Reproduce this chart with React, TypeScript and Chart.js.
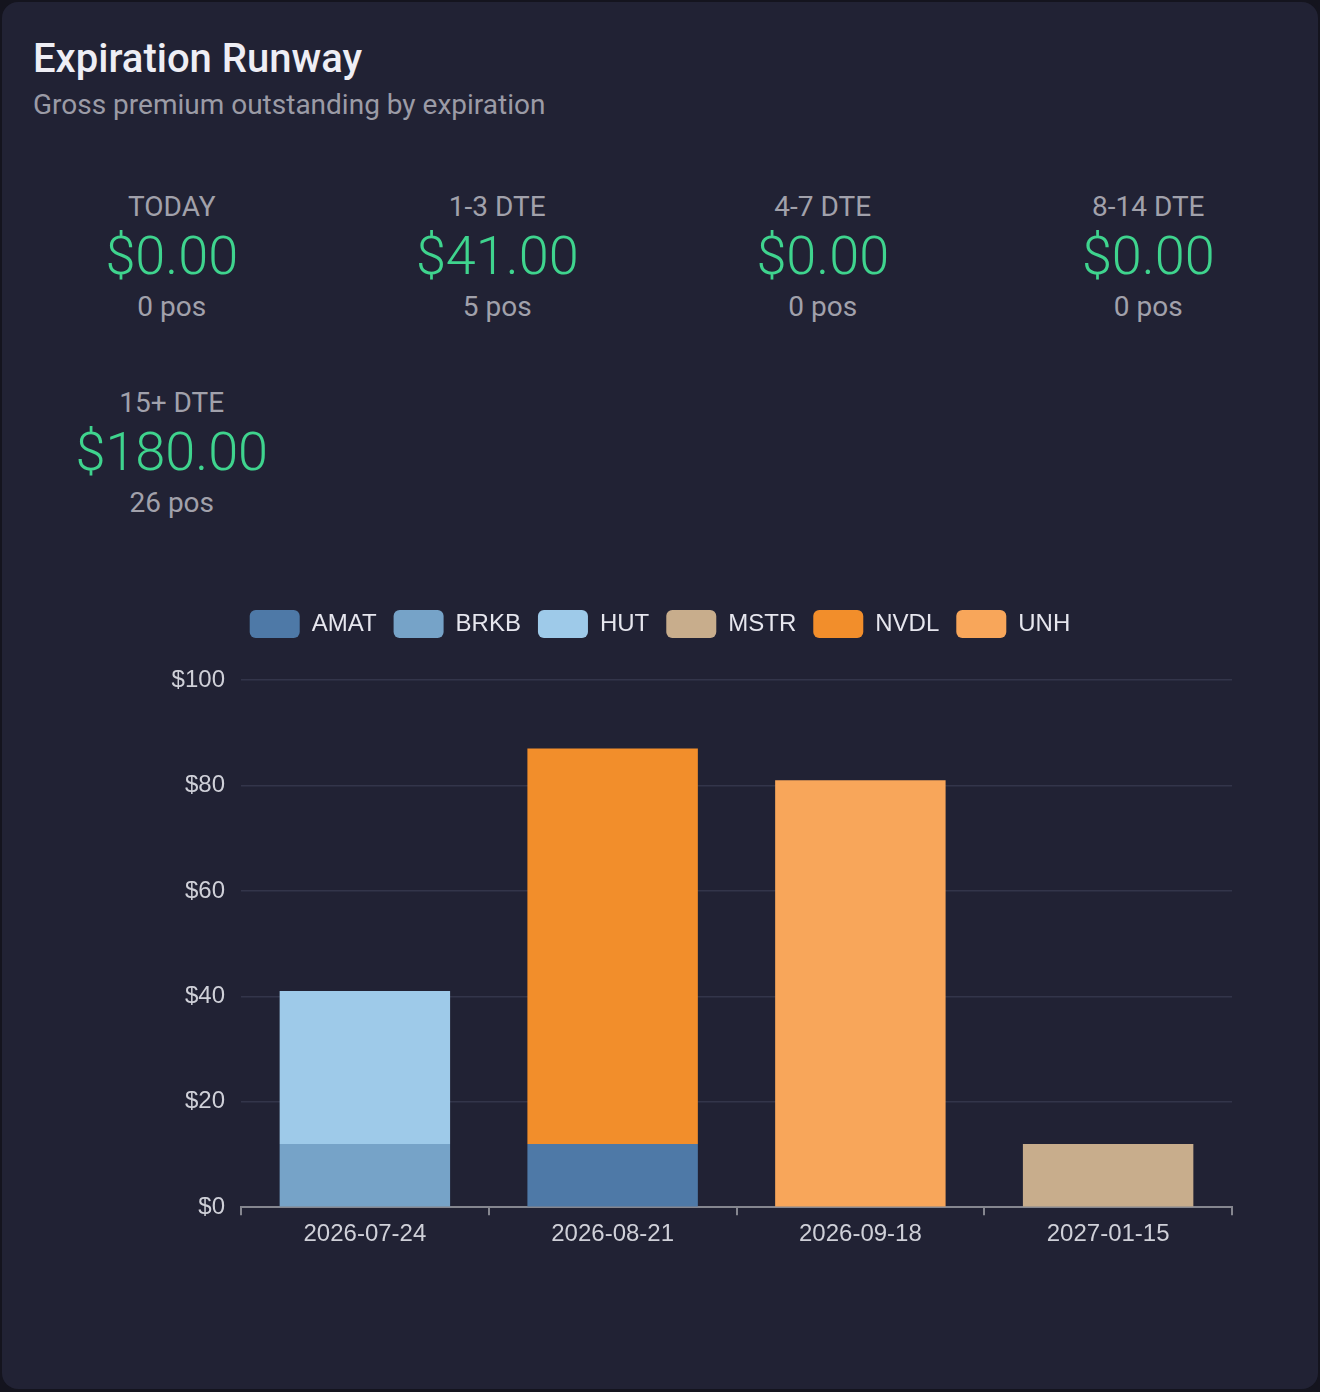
import { useEffect, useRef } from 'react';
import Chart from 'chart.js/auto';

const buckets = ['TODAY', '1-3 DTE', '4-7 DTE', '8-14 DTE', '15+ DTE'];
const bucketPremium = [0, 41, 0, 0, 180];
const bucketPositions = [0, 5, 0, 0, 26];

const expirations = ['2026-07-24', '2026-08-21', '2026-09-18', '2027-01-15'];
const tickers = ['AMAT', 'BRKB', 'HUT', 'MSTR', 'NVDL', 'UNH'];
const amat = [null, 12, null, null];
const brkb = [12, null, null, null];
const hut = [29, null, null, null];
const mstr = [null, null, null, 12];
const nvdl = [null, 75, null, null];
const unh = [null, null, 81, null];
const tickerColors = ['#4e79a7', '#76a3c8', '#9ecae9', '#c8ad8c', '#f28e2b', '#f8a65a'];
const yTicks = [0, 20, 40, 60, 80, 100];

const CHART_FONT = "'Liberation Sans', Arial, sans-serif";

// pushes the plot down below the legend
const legendGap = {
  id: 'legendGap',
  beforeInit(chart) {
    const fit = chart.legend.fit;
    chart.legend.fit = function () {
      fit.bind(chart.legend)();
      this.height += 32;
    };
  },
};

const RunwayChart = () => {
  const chartRef = useRef(null);

  useEffect(() => {
    const ctx = chartRef.current.getContext('2d');
    const series = [amat, brkb, hut, mstr, nvdl, unh];

    const chart = new Chart(ctx, {
      type: 'bar',
      data: {
        labels: expirations,
        datasets: tickers.map((t, i) => ({
          label: t,
          data: series[i],
          backgroundColor: tickerColors[i],
          borderWidth: 0,
          barPercentage: 0.86,
          categoryPercentage: 0.8,
        })),
      },
      plugins: [legendGap],
      options: {
        animation: false,
        responsive: true,
        maintainAspectRatio: false,
        layout: { padding: { top: 13, left: 55, right: 55, bottom: 2 } },
        font: { family: CHART_FONT, size: 24 },
        plugins: {
          tooltip: { enabled: false },
          legend: {
            position: 'top',
            labels: {
              color: '#e6e6ee',
              font: { family: CHART_FONT, size: 24 },
              boxWidth: 50,
              boxHeight: 28,
              padding: 17,
              useBorderRadius: true,
              borderRadius: 6,
            },
          },
        },
        scales: {
          x: {
            stacked: true,
            grid: {
              drawOnChartArea: false,
              drawTicks: true,
              tickLength: 8,
              color: '#85868f',
              lineWidth: 2,
            },
            border: { display: true, color: '#85868f', width: 2 },
            ticks: { color: '#cfd0d8', padding: 5, font: { family: CHART_FONT, size: 24 } },
          },
          y: {
            stacked: true,
            min: 0,
            max: 100,
            afterFit(scale) {
              scale.width = 153;
            },
            afterBuildTicks(scale) {
              scale.ticks = yTicks.map((v) => ({ value: v }));
            },
            grid: { color: '#33354a', lineWidth: 1.5, drawTicks: false },
            border: { display: false },
            ticks: {
              color: '#cfd0d8',
              padding: 16,
              font: { family: CHART_FONT, size: 24 },
              callback: (v) => '$' + v,
            },
          },
        },
      },
    });

    return () => {
      chart.destroy();
    };
  }, []);

  return <canvas ref={chartRef}></canvas>;
};

const StatCell = (props) => (
  <div style={{ textAlign: 'center' }}>
    <div style={{ fontSize: 28, lineHeight: '32px', color: '#a1a1ab' }}>{props.label}</div>
    <div style={{ fontSize: 54, lineHeight: '62px', fontWeight: 300, color: '#3fd48e', marginTop: 2 }}>
      ${props.premium.toFixed(2)}
    </div>
    <div style={{ fontSize: 28, lineHeight: '32px', color: '#a1a1ab', marginTop: 4 }}>{props.positions} pos</div>
  </div>
);

export default function App() {
  useEffect(() => {
    document.body.style.margin = '0';
    document.body.style.background = '#14141e';
  }, []);

  return (
    <div
      style={{
        position: 'relative',
        margin: 2,
        height: 1387,
        borderRadius: 16,
        background: '#212234',
        boxSizing: 'border-box',
        padding: '0 31px',
        fontFamily: 'Roboto, sans-serif',
        overflow: 'hidden',
      }}
    >
      <div style={{ paddingTop: 34, fontSize: 40, lineHeight: '46px', fontWeight: 500, color: '#eeeef5' }}>
        Expiration Runway
      </div>
      <div style={{ marginTop: 7, fontSize: 28, lineHeight: '32px', color: '#9b9ba6' }}>
        Gross premium outstanding by expiration
      </div>
      <div
        style={{
          marginTop: 70,
          display: 'grid',
          gridTemplateColumns: 'repeat(4, 1fr)',
          columnGap: 48,
          rowGap: 64,
        }}
      >
        {buckets.map((b, i) => (
          <StatCell key={b} label={b} premium={bucketPremium[i]} positions={bucketPositions[i]} />
        ))}
      </div>
      <div style={{ position: 'absolute', left: 31, top: 578, width: 1254, height: 676 }}>
        <RunwayChart />
      </div>
    </div>
  );
}
